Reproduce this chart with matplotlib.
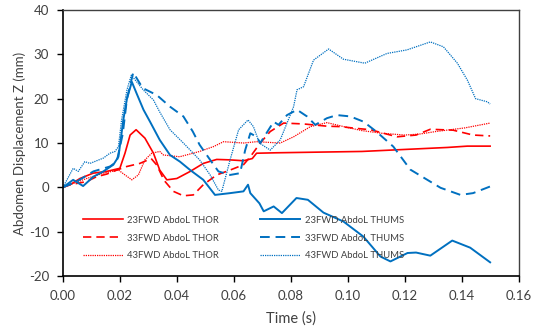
import matplotlib
matplotlib.use("Agg")
import matplotlib.pyplot as plt

plt.rcParams['font.family'] = ['Lato', 'DejaVu Sans']

# ---------------- data ----------------
t_thor23 = [0, 0.0025, 0.006, 0.0106, 0.0154, 0.02, 0.0218, 0.0236, 0.0257, 0.0288, 0.0318,
            0.034, 0.0365, 0.04, 0.0447, 0.0493, 0.054, 0.0587, 0.0634, 0.0665, 0.068, 0.075,
            0.085, 0.095, 0.105, 0.115, 0.125, 0.135, 0.142, 0.15]
v_thor23 = [0, 0.6, 2.0, 3.2, 3.6, 4.3, 7.7, 11.8, 13.0, 11.1, 7.7,
            3.9, 1.7, 2.0, 3.6, 5.4, 6.3, 6.2, 6.0, 6.5, 7.7, 7.8,
            7.9, 8.0, 8.1, 8.4, 8.7, 9.0, 9.3, 9.3]

t_thor33 = [0, 0.0025, 0.0083, 0.0118, 0.0154, 0.0189, 0.0224, 0.027, 0.031, 0.033, 0.0355,
            0.0388, 0.0423, 0.0458, 0.0493, 0.054, 0.0587, 0.0634, 0.0658, 0.0693, 0.0728,
            0.0775, 0.0845, 0.0927, 0.0974, 0.103, 0.108, 0.1173, 0.124, 0.129, 0.137, 0.144, 0.15]
v_thor33 = [0, 0.6, 1.3, 2.4, 3.0, 3.9, 4.7, 5.4, 6.5, 5.0, 1.6,
            -0.9, -1.9, -1.7, 0.6, 2.8, 3.9, 5.1, 6.9, 10.0, 12.6,
            14.5, 14.3, 13.8, 13.7, 13.3, 13.0, 11.4, 11.8, 13.1, 12.9, 11.8, 11.6]

t_thor43 = [0, 0.0025, 0.0083, 0.0142, 0.0195, 0.0218, 0.0242, 0.0265, 0.0288, 0.0312, 0.034,
            0.0353, 0.041, 0.048, 0.0529, 0.0564, 0.0634, 0.068, 0.0763, 0.081, 0.0869, 0.0927,
            0.0986, 0.105, 0.112, 0.12, 0.125, 0.131, 0.141, 0.15]
v_thor43 = [0, 0.6, 2.0, 3.2, 3.9, 2.8, 1.7, 2.8, 6.2, 7.7, 8.1,
            7.3, 6.9, 8.1, 9.2, 10.3, 10.0, 10.3, 10.0, 11.4, 13.7, 14.6,
            13.7, 12.8, 12.2, 11.8, 12.0, 12.6, 13.4, 14.5]

t_thums23 = [0, 0.0036, 0.0071, 0.0107, 0.0142, 0.0177, 0.0195, 0.0206, 0.0212, 0.0225, 0.0242,
             0.026, 0.0283, 0.0306, 0.034, 0.0376, 0.0411, 0.0447, 0.0493, 0.0534, 0.0587,
             0.0634, 0.065, 0.0658, 0.069, 0.0705, 0.074, 0.0769, 0.082, 0.086, 0.0915,
             0.0985, 0.1055, 0.1115, 0.115, 0.121, 0.124, 0.129, 0.1367, 0.143, 0.15]
v_thums23 = [0, 1.7, 0.3, 2.4, 3.6, 5.1, 6.9, 12.2, 15.2, 20.0, 23.8,
             21.0, 17.5, 14.8, 10.7, 7.3, 5.8, 3.9, 1.7, -1.7, -1.3,
             -0.9, 0.6, -1.3, -3.6, -5.4, -4.3, -5.8, -2.4, -2.8, -5.7,
             -7.7, -11.1, -15.6, -16.7, -14.8, -14.7, -15.4, -12.0, -13.6, -16.9]

t_thums33 = [0, 0.0048, 0.0107, 0.0165, 0.0189, 0.021, 0.0225, 0.0247, 0.028, 0.033, 0.0376,
             0.0423, 0.0456, 0.048, 0.0517, 0.0546, 0.0587, 0.0622, 0.064, 0.0658, 0.068,
             0.0693, 0.074, 0.0757, 0.0787, 0.0822, 0.0857, 0.0886, 0.0927, 0.0962, 0.1009,
             0.1056, 0.110, 0.116, 0.122, 0.1326, 0.1396, 0.144, 0.15]
v_thums33 = [0, 1.3, 3.6, 4.7, 5.8, 12.0, 20.0, 25.9, 22.4, 20.8, 18.2,
             16.0, 12.6, 9.6, 6.2, 3.6, 2.8, 3.2, 8.4, 12.2, 11.4,
             10.0, 14.8, 14.1, 16.3, 17.5, 16.0, 14.1, 15.6, 16.3, 16.0,
             14.8, 12.6, 9.2, 4.0, -0.1, -1.7, -1.3, 0.2]

t_thums43 = [0, 0.0036, 0.0054, 0.0077, 0.0095, 0.0142, 0.0165, 0.0183, 0.0195, 0.0206, 0.0225,
             0.024, 0.0282, 0.0318, 0.034, 0.0376, 0.0423, 0.048, 0.0517, 0.0546, 0.0558,
             0.0587, 0.0617, 0.065, 0.0669, 0.069, 0.0728, 0.0763, 0.081, 0.0822, 0.0845,
             0.088, 0.0933, 0.0985, 0.106, 0.1138, 0.1208, 0.129, 0.1336, 0.1385, 0.142,
             0.1449, 0.149, 0.15]
v_thums43 = [0, 4.3, 3.6, 5.8, 5.4, 6.6, 7.7, 8.1, 9.2, 15.2, 22.0,
             25.3, 22.0, 19.7, 17.0, 13.0, 10.0, 6.2, 2.8, -0.6, -0.9,
             6.2, 13.0, 15.2, 13.7, 10.0, 8.4, 10.7, 18.2, 22.0, 22.7,
             28.7, 31.2, 28.9, 28.0, 30.2, 31.0, 32.8, 31.7, 28.0, 24.2,
             20.0, 19.3, 18.8]

labels = ["23FWD AbdoL THOR", "33FWD AbdoL THOR", "43FWD AbdoL THOR",
          "23FWD AbdoL THUMS", "33FWD AbdoL THUMS", "43FWD AbdoL THUMS"]
xticks = [0.00, 0.02, 0.04, 0.06, 0.08, 0.10, 0.12, 0.14, 0.16]
yticks = [-20, -10, 0, 10, 20, 30, 40]

# ---------------- plot ----------------
RED = "#FF0000"
BLUE = "#0070C0"
fig = plt.figure(figsize=(5.33, 3.33), dpi=100)
ax = fig.add_axes([0.118, 0.171, 0.855, 0.799])

solid = '-'
dashed = (0, (5, 3))
dotted = (0, (1, 0.8))

l1, = ax.plot(t_thor23, v_thor23, color=RED, lw=1.2, ls=solid)
l2, = ax.plot(t_thor33, v_thor33, color=RED, lw=1.2, ls=dashed)
l3, = ax.plot(t_thor43, v_thor43, color=RED, lw=0.9, ls=dotted)
l4, = ax.plot(t_thums23, v_thums23, color=BLUE, lw=1.4, ls=solid)
l5, = ax.plot(t_thums33, v_thums33, color=BLUE, lw=1.4, ls=dashed)
l6, = ax.plot(t_thums43, v_thums43, color=BLUE, lw=0.9, ls=dotted)

ax.set_xlim(0, 0.16)
ax.set_ylim(-20, 40)
ax.set_xticks(xticks)
ax.set_xticklabels([f"{x:.2f}" for x in xticks])
ax.set_yticks(yticks)
ax.set_yticklabels([str(y) for y in yticks])
ax.tick_params(axis='both', direction='out', length=4, width=1, labelsize=9.5,
               colors='black', labelcolor='#404040', pad=6)
ax.tick_params(top=False, right=False)
for s in ['left', 'bottom']:
    ax.spines[s].set_color('black')
    ax.spines[s].set_linewidth(1.2)
for s in ['top', 'right']:
    ax.spines[s].set_color('#404040')
    ax.spines[s].set_linewidth(1.0)

ax.set_xlabel("Time (s)", fontsize=10.5, color='#404040', labelpad=7)
ax.set_ylabel("Abdomen Displacement Z (mm)", fontsize=9.5, color='#404040', labelpad=2)

leg_kw = dict(frameon=False, fontsize=6.8, handlelength=4.2, handletextpad=0.5,
              labelspacing=0.95, borderpad=0, borderaxespad=0, loc='center left',
              labelcolor='#404040')
leg1 = ax.legend([l1, l2, l3], labels[:3], bbox_to_anchor=(0.044, 0.143), **leg_kw)
ax.add_artist(leg1)
leg2 = ax.legend([l4, l5, l6], labels[3:], bbox_to_anchor=(0.433, 0.143), **leg_kw)

fig.savefig("out.png", dpi=100)
